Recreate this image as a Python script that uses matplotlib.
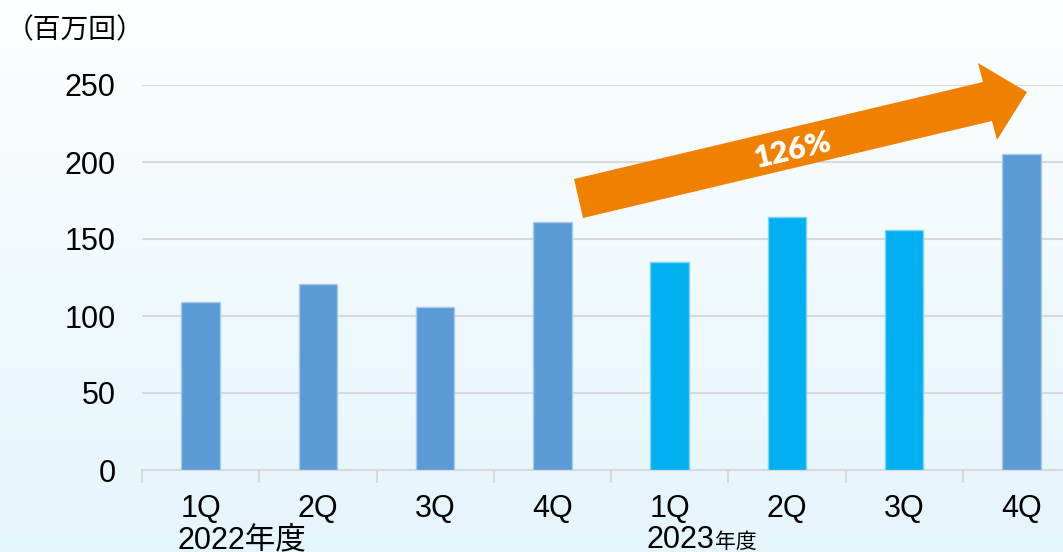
import numpy as np
import matplotlib.pyplot as plt
from matplotlib.patches import Polygon

plt.rcParams['font.family'] = ['Liberation Sans', 'Noto Sans CJK JP', 'DejaVu Sans']

quarters = ['1Q', '2Q', '3Q', '4Q', '1Q', '2Q', '3Q', '4Q']
values = [109, 121, 106, 161, 135, 164, 156, 205]
colors = ['#5B9BD5'] * 4 + ['#00B0F0'] * 3 + ['#5B9BD5']
edges = ['#A9C9EC'] * 4 + ['#7FD3F5'] * 3 + ['#A9C9EC']
y_ticks = [0, 50, 100, 150, 200, 250]

W, H = 1063, 552
fig = plt.figure(figsize=(W / 100, H / 100), dpi=100)

# fondo degradado
bg = fig.add_axes([0, 0, 1, 1], zorder=-10)
grad = np.linspace(0, 1, 256).reshape(-1, 1)
top = np.array([0xFD, 0xFE, 0xFF]) / 255
bot = np.array([0xE4, 0xF5, 0xFB]) / 255
img = top + (bot - top) * grad[:, :, None]
bg.imshow(img, aspect='auto', extent=[0, 1, 0, 1])
bg.axis('off')

ax = fig.add_axes([142 / W, 82 / H, 938 / W, 385 / H])
ax.patch.set_alpha(0)
x = np.arange(len(values))
ax.bar(x, values, width=0.33, color=colors, edgecolor=edges, linewidth=1, zorder=3)

ax.set_xlim(-0.5, 7.5)
ax.set_ylim(0, 250)
ax.set_yticks(y_ticks)
ax.tick_params(axis='y', length=0, labelsize=22, pad=19)
ax.set_xticks(np.arange(-0.5, 8, 1))
ax.set_xticklabels([])
ax.set_xticks(x, minor=True)
ax.set_xticklabels(quarters, minor=True, fontsize=22)
ax.tick_params(axis='x', which='major', length=9, width=1.5, color='#D9D9D9', direction='out')
ax.tick_params(axis='x', which='minor', length=0, pad=17)
ax.grid(axis='y', color='#D9D9D9', linewidth=1.5, zorder=0)
for s in ['top', 'right', 'left']:
    ax.spines[s].set_visible(False)
ax.spines['bottom'].set_color('#D9D9D9')
ax.spines['bottom'].set_linewidth(1.5)

fig.text(6 / W, 1 - 30 / H, '（百万回）', fontsize=20, va='center', ha='left',
         family=['Noto Sans CJK JP', 'DejaVu Sans'])
fig.text(242 / W, 1 - 540 / H, '2022年度', fontsize=22, va='center', ha='center')
t23 = fig.text(647 / W, 1 - 540 / H, '2023', fontsize=22, va='center', ha='left')
ax.annotate('年度', xy=(1.0, 0.08), xycoords=t23, ha='left', va='bottom', fontsize=15,
            family=['Noto Sans CJK JP', 'DejaVu Sans'], annotation_clip=False)

# flecha de crecimiento (px desde arriba a la izquierda)
arrow_px = [(574, 179), (983, 82), (978, 63), (1027, 92), (997, 140), (992, 121), (583, 218)]
arrow_fig = [(px / W, 1 - py / H) for px, py in arrow_px]
fig.patches.append(Polygon(arrow_fig, closed=True, transform=fig.transFigure,
                           facecolor='#F08000', edgecolor='none', zorder=5))
fig.text(793 / W, 1 - 150 / H, '126%', fontsize=22, fontweight='heavy', color='white',
         rotation=13, ha='center', va='center', family=['Lato', 'DejaVu Sans'], zorder=6)

fig.savefig('out.png', dpi=100)
